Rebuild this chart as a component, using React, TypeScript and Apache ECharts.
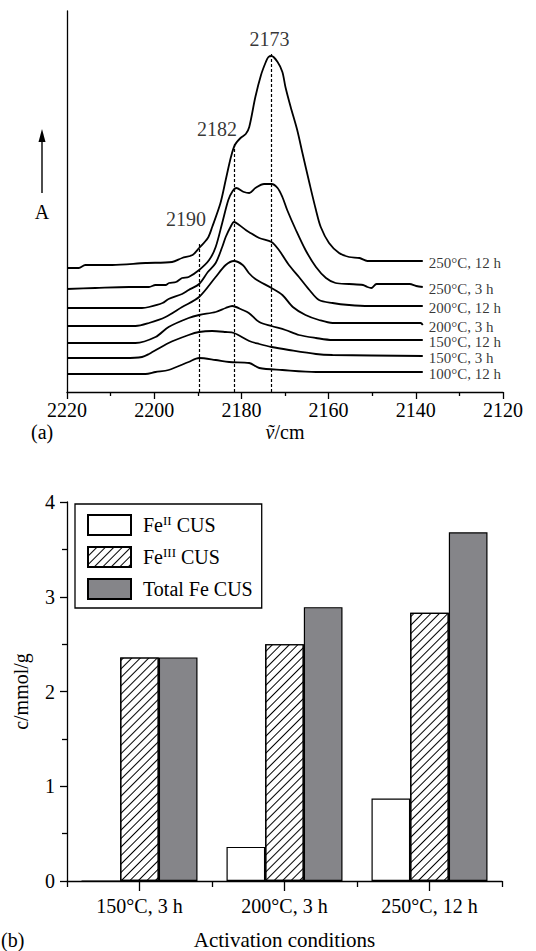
import React, { useEffect, useRef } from "react";
import * as echarts from "echarts";

const FONT = '"Liberation Serif", "Times New Roman", serif';

// ---- Panel (a): IR spectra (wavenumber /cm, absorbance a.u.) ----
const spectrumNames = ["250°C, 12 h", "250°C, 3 h", "200°C, 12 h", "200°C, 3 h", "150°C, 12 h", "150°C, 3 h", "100°C, 12 h"];

const spec250_12h = [[2220,1.24],[2217.3,1.24],[2215.8,1.27],[2209.6,1.27],[2202.0,1.29],[2195.9,1.30],[2193.6,1.34],[2191.2,1.37],[2189.7,1.44],[2187.7,1.54],[2186.7,1.65],[2184.8,1.89],[2183.6,2.12],[2182.4,2.35],[2181.5,2.47],[2180.2,2.54],[2179.0,2.58],[2178.2,2.65],[2176.8,2.95],[2175.5,3.17],[2174.4,3.30],[2173.8,3.35],[2173.1,3.36],[2171.7,3.30],[2170.6,3.20],[2169.9,3.05],[2168.7,2.85],[2167.2,2.62],[2166.0,2.39],[2164.4,2.09],[2162.9,1.82],[2161.8,1.65],[2159.9,1.49],[2157.6,1.39],[2155.3,1.35],[2152.9,1.34],[2151.1,1.31],[2138.4,1.31]];
const spec250_3h = [[2220,1.03],[2213.5,1.04],[2205.8,1.05],[2201.2,1.05],[2199.7,1.07],[2197.4,1.07],[2196.6,1.09],[2195.0,1.10],[2193.6,1.14],[2192.1,1.15],[2189.7,1.22],[2187.4,1.32],[2185.9,1.45],[2184.4,1.69],[2183.0,1.92],[2182.0,2.01],[2181.2,2.04],[2179.4,2.00],[2178.2,1.99],[2176.8,2.04],[2174.8,2.08],[2173.1,2.08],[2171.7,2.04],[2170.6,1.95],[2169.5,1.82],[2167.5,1.62],[2165.3,1.42],[2162.9,1.25],[2160.6,1.14],[2158.4,1.09],[2155.3,1.08],[2152.1,1.07],[2151.1,1.05],[2150.2,1.04],[2149.0,1.08],[2141.4,1.08],[2139.9,1.06],[2138.4,1.05]];
const spec200_12h = [[2220,0.84],[2202.8,0.84],[2201.2,0.85],[2198.1,0.89],[2196.7,0.93],[2193.6,0.98],[2192.1,1.02],[2189.7,1.08],[2187.7,1.20],[2185.9,1.29],[2184.4,1.45],[2183.6,1.55],[2182.5,1.65],[2181.7,1.70],[2180.5,1.67],[2179.0,1.62],[2178.3,1.60],[2175.9,1.54],[2173.1,1.50],[2171.4,1.42],[2169.1,1.27],[2166.8,1.15],[2164.4,1.02],[2162.2,0.92],[2159.1,0.89],[2155.3,0.87],[2150.7,0.86],[2138.4,0.86]];
const spec200_3h = [[2220,0.66],[2204.3,0.66],[2201.2,0.69],[2197.4,0.75],[2193.6,0.85],[2189.7,0.95],[2185.9,1.15],[2183.6,1.27],[2181.7,1.31],[2179.7,1.27],[2178.3,1.19],[2176.8,1.13],[2173.1,1.04],[2170.6,0.97],[2168.2,0.85],[2165.3,0.77],[2162.2,0.72],[2159.1,0.69],[2150.7,0.69],[2138.9,0.69],[2138.4,0.67]];
const spec150_12h = [[2220,0.49],[2204.3,0.49],[2199.7,0.55],[2196.7,0.65],[2192.1,0.74],[2189.7,0.77],[2185.9,0.80],[2183.6,0.84],[2182.1,0.86],[2179.7,0.82],[2178.3,0.79],[2175.9,0.70],[2173.1,0.66],[2169.9,0.62],[2166.8,0.57],[2162.9,0.54],[2159.1,0.52],[2138.4,0.52]];
const spec150_3h = [[2220,0.34],[2206.7,0.34],[2202.8,0.35],[2201.2,0.38],[2196.7,0.49],[2192.1,0.57],[2189.7,0.60],[2186.7,0.61],[2183.6,0.60],[2181.7,0.59],[2178.2,0.51],[2175.9,0.48],[2173.1,0.45],[2169.1,0.42],[2162.9,0.38],[2159.1,0.37],[2138.4,0.36]];
const spec100_12h = [[2220,0.18],[2202.0,0.18],[2199.7,0.20],[2196.7,0.22],[2192.1,0.30],[2189.7,0.34],[2185.9,0.32],[2182.8,0.30],[2178.2,0.29],[2175.9,0.24],[2170.6,0.22],[2162.9,0.20],[2138.4,0.20]];

const peakWavenumbers = [2189.7, 2181.7, 2173.1];
const peakLabels = ["2190", "2182", "2173"];
const peakLineTops = [1.49, 2.5, 3.4];

// ---- Panel (b): bar chart ----
const activationConditions = ["150°C, 3 h", "200°C, 3 h", "250°C, 12 h"];
const barNames = ["FeII CUS", "FeIII CUS", "Total Fe CUS"];
const feIICus = [0, 0.36, 0.87];
const feIIICus = [2.36, 2.5, 2.83];
const totalFeCus = [2.36, 2.89, 3.68];

export default function App() {
  const ref = useRef<HTMLDivElement>(null);

  useEffect(() => {
    document.body.style.margin = "0";
    if (!ref.current) return;
    const chart = echarts.init(ref.current, null, { renderer: "svg" });
    const spectra = [spec250_12h, spec250_3h, spec200_12h, spec200_3h, spec150_12h, spec150_3h, spec100_12h];
    const black = "#000";
    const axisLine = { show: true, lineStyle: { color: black, width: 1.3 } };
    const labelOffsets = [[-13, 0], [-17, 0], [-2, 0]];
    const labelDistances = [14, 3, 3];

    const lineSeries: any[] = spectra.map((d, i) => ({
      type: "line",
      name: spectrumNames[i],
      xAxisIndex: 0,
      yAxisIndex: 0,
      data: d,
      symbol: "none",
      showSymbol: false,
      smooth: 0.3,
      silent: true,
      lineStyle: { color: black, width: 1.8 },
      z: 3,
    }));

    // labels at the right end of each spectrum
    lineSeries.push({
      type: "scatter",
      name: "curveLabels",
      xAxisIndex: 0,
      yAxisIndex: 0,
      symbolSize: 0,
      silent: true,
      data: spectra.map((d, i) => ({
        value: d[d.length - 1],
        label: {
          show: true,
          position: "right",
          distance: 6,
          offset: [0, 1.5],
          formatter: spectrumNames[i],
          color: black,
          fontFamily: FONT,
          fontSize: 15,
        },
      })),
    });

    lineSeries.push({
      type: "scatter",
      name: "peaks",
      xAxisIndex: 0,
      yAxisIndex: 0,
      symbolSize: 0,
      silent: true,
      data: peakWavenumbers.map((w, i) => ({
        value: [w, peakLineTops[i]],
        label: {
          show: true,
          position: "top",
          formatter: peakLabels[i],
          distance: labelDistances[i],
          offset: labelOffsets[i],
          color: black,
          fontFamily: FONT,
          fontSize: 20,
        },
      })),
      markLine: {
        silent: true,
        symbol: ["none", "none"],
        label: { show: false },
        lineStyle: { color: black, width: 1.2, type: [3, 2] },
        data: peakWavenumbers.map((w, i) => [
          { coord: [w, 0] },
          { coord: [w, peakLineTops[i]] },
        ]),
      },
    });

    const barBase = {
      type: "bar",
      xAxisIndex: 1,
      yAxisIndex: 1,
      barGap: "0%",
      barCategoryGap: "20%",
      silent: true,
    };

    const option: any = {
      animation: false,
      textStyle: { fontFamily: FONT, color: black },
      grid: [
        { left: 67, right: 33, top: 11, bottom: 559, containLabel: false },
        { left: 67, right: 34, top: 502, bottom: 70, containLabel: false },
      ],
      xAxis: [
        {
          gridIndex: 0,
          type: "value",
          min: 2120,
          max: 2220,
          interval: 20,
          inverse: true,
          axisLine,
          axisTick: { show: true, length: 7, lineStyle: { color: black, width: 1.3 } },
          minorTick: { show: true, splitNumber: 2, length: 4, lineStyle: { color: black, width: 1.3 } },
          splitLine: { show: false },
          minorSplitLine: { show: false },
          axisLabel: { color: black, fontFamily: FONT, fontSize: 20, margin: 8, formatter: (v: number) => String(v) },
          name: "{i|ṽ}/cm",
          nameLocation: "middle",
          nameGap: 30,
          nameTextStyle: {
            color: black,
            fontFamily: FONT,
            fontSize: 20,
            rich: { i: { fontStyle: "italic", fontFamily: FONT, fontSize: 20 } },
          },
        },
        {
          gridIndex: 1,
          type: "category",
          position: "bottom",
          data: activationConditions,
          axisLine,
          axisTick: { show: true, interval: 0, length: 6, lineStyle: { color: black, width: 1.3 } },
          axisLabel: { color: black, fontFamily: FONT, fontSize: 20, margin: 15 },
          name: "Activation conditions",
          nameLocation: "middle",
          nameGap: 48,
          nameTextStyle: { color: black, fontFamily: FONT, fontSize: 21 },
        },
        {
          gridIndex: 1,
          type: "category",
          position: "bottom",
          offset: 0,
          data: activationConditions,
          axisLine: { show: false },
          axisTick: { show: true, alignWithLabel: true, length: 10, lineStyle: { color: black, width: 1.3 } },
          axisLabel: { show: false },
        },
      ],
      yAxis: [
        {
          gridIndex: 0,
          type: "value",
          min: 0,
          max: 3.81,
          axisLine,
          axisTick: { show: false },
          axisLabel: { show: false },
          splitLine: { show: false },
        },
        {
          gridIndex: 1,
          type: "value",
          min: 0,
          max: 4,
          interval: 1,
          axisLine,
          axisTick: { show: true, length: 7, lineStyle: { color: black, width: 1.3 } },
          minorTick: { show: true, splitNumber: 2, length: 5, lineStyle: { color: black, width: 1.3 } },
          splitLine: { show: false },
          minorSplitLine: { show: false },
          axisLabel: { color: black, fontFamily: FONT, fontSize: 20, margin: 12 },
          name: "c/mmol/g",
          nameLocation: "middle",
          nameGap: 36,
          nameTextStyle: { color: black, fontFamily: FONT, fontSize: 20 },
        },
      ],
      legend: {
        data: barNames,
        orient: "vertical",
        left: 75,
        top: 504,
        padding: [10, 9, 8, 12],
        itemGap: 10,
        itemWidth: 43,
        itemHeight: 20,
        icon: "rect",
        selectedMode: false,
        borderColor: black,
        borderWidth: 1.3,
        formatter: (name: string) => {
          if (name === "FeII CUS") return "{n|Fe}{sup|II}{n| CUS}";
          if (name === "FeIII CUS") return "{n|Fe}{sup|III}{n| CUS}";
          return "{n|" + name + "}";
        },
        textStyle: {
          color: black,
          fontFamily: FONT,
          fontSize: 20,
          padding: [0, 0, 0, 7],
          rich: {
            n: { fontFamily: FONT, fontSize: 20, lineHeight: 22, color: black },
            sup: { fontFamily: FONT, fontSize: 13, lineHeight: 10, verticalAlign: "top", color: black },
          },
        },
      },
      graphic: [
        { type: "line", shape: { x1: 42, y1: 193, x2: 42, y2: 140 }, style: { stroke: black, lineWidth: 1.4 } },
        { type: "polygon", shape: { points: [[38.5, 142], [45.5, 142], [42, 129]] }, style: { fill: black } },
        { type: "text", x: 42, y: 212, style: { text: "A", fill: black, fontFamily: FONT, fontSize: 20, align: "center", verticalAlign: "middle" } },
        { type: "text", x: 31, y: 432, style: { text: "(a)", fill: black, fontFamily: FONT, fontSize: 20, align: "left", verticalAlign: "middle" } },
        { type: "text", x: 1, y: 940, style: { text: "(b)", fill: black, fontFamily: FONT, fontSize: 20, align: "left", verticalAlign: "middle" } },
      ],
      series: [
        ...lineSeries,
        {
          ...barBase,
          name: "FeII CUS",
          data: feIICus,
          itemStyle: { color: "#ffffff", borderColor: black, borderWidth: 1.2 },
        },
        {
          ...barBase,
          name: "FeIII CUS",
          data: feIIICus,
          itemStyle: {
            color: "#ffffff",
            borderColor: black,
            borderWidth: 1.2,
            decal: {
              symbol: "rect",
              symbolSize: 1,
              dashArrayX: [1, 0],
              dashArrayY: [1, 4.5],
              rotation: -Math.PI / 4,
              color: "#000000",
            },
          },
        },
        {
          ...barBase,
          name: "Total Fe CUS",
          data: totalFeCus,
          itemStyle: { color: "#858589", borderColor: black, borderWidth: 1.2 },
        },
      ],
    };

    chart.setOption(option);
    return () => chart.dispose();
  }, []);

  return (
    <div
      ref={ref}
      style={{ position: "absolute", left: 0, top: 0, width: 536, height: 951, background: "#fff" }}
    />
  );
}
